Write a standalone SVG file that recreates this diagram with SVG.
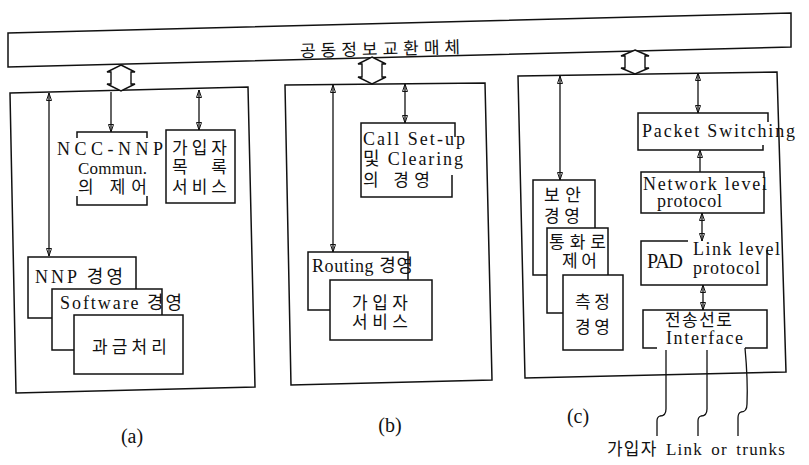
<svg xmlns="http://www.w3.org/2000/svg" width="809" height="465" viewBox="0 0 809 465">
<style>
text{font-family:"Liberation Serif","Noto Sans CJK KR",serif;fill:#111;font-size:17px}
.k{font-family:"Noto Sans CJK KR","Liberation Serif",sans-serif;font-size:17px}
.l{font-size:18px}
.p{font-size:20px}
.b{fill:none;stroke:#111;stroke-width:1.5}
.c{fill:none;stroke:#111;stroke-width:1.3}
.h{fill:#fff;stroke:#111;stroke-width:1.4}
</style>
<defs>
<marker id="ah" viewBox="0 0 8 6" refX="8" refY="3" markerWidth="8" markerHeight="6" markerUnits="userSpaceOnUse" orient="auto-start-reverse">
<path d="M0.5,0.5 L8,3 L0.5,5.5 Z" fill="none" stroke="#111" stroke-width="1"/>
</marker>
</defs>
<rect width="809" height="465" fill="#fff"/>

<g id="bus">
<polygon class="b" points="8,33 791,13 791,47 8,67"/>
<text class="k" x="300" y="55" font-size="18" textLength="160" lengthAdjust="spacing" transform="rotate(-1.4 380 48)">공동정보교환매체</text>
</g>

<g id="panel-a">
<polygon class="b" points="10,93 248,87 255,387 16,393"/>
<text class="p" x="132" y="443" text-anchor="middle">(a)</text>
</g>
<g id="ncc-nnp">
<path class="b" d="M77,138 V132 H147 V138 M77,196 V205 H147 V196"/>
<text class="l" x="57" y="155" textLength="106" lengthAdjust="spacing">NCC-NNP</text>
<text x="78" y="174" textLength="69" lengthAdjust="spacing">Commun.</text>
<text class="k" x="78" y="193" textLength="69" lengthAdjust="spacing">의 제어</text>
</g>
<g id="subscriber-directory">
<rect class="b" x="166" y="130" width="69" height="73"/>
<text class="k" x="172" y="154" textLength="55" lengthAdjust="spacing">가입자</text>
<text class="k" x="172" y="173" textLength="55" lengthAdjust="spacing">목 록</text>
<text class="k" x="172" y="193" textLength="55" lengthAdjust="spacing">서비스</text>
</g>
<g id="nnp-mgmt">
<path class="b" d="M136,289 V257 H28 V318 H52"/>
<text class="l" x="35" y="283" textLength="88" lengthAdjust="spacing">NNP 경영</text>
</g>
<g id="software-mgmt">
<path class="b" d="M74,350 H52 V289 H162 V315"/>
<text class="l" x="60" y="309" textLength="122" lengthAdjust="spacing">Software 경영</text>
</g>
<g id="billing">
<rect class="b" x="74" y="315" width="109" height="59"/>
<text class="k" x="92" y="353" textLength="75" lengthAdjust="spacing">과금처리</text>
</g>

<g id="panel-b">
<polygon class="b" points="285,85 485,83 492,380 291,385"/>
<text class="p" x="390" y="432" text-anchor="middle">(b)</text>
</g>
<g id="call-setup">
<path class="b" d="M455,137 V123 H361 V197 H452 V175"/>
<text class="l" x="363" y="145" textLength="102" lengthAdjust="spacing">Call Set-up</text>
<text class="l" x="363" y="165" textLength="100" lengthAdjust="spacing">및 Clearing</text>
<text class="k" x="363" y="186" textLength="67" lengthAdjust="spacing">의 경영</text>
</g>
<g id="routing-mgmt">
<path class="b" d="M408,280 V252 H308 V310 H330"/>
<text class="l" x="312" y="272" textLength="101" lengthAdjust="spacing">Routing 경영</text>
</g>
<g id="subscriber-service">
<rect class="b" x="330" y="280" width="102" height="60"/>
<text class="k" x="352" y="309" textLength="56" lengthAdjust="spacing">가입자</text>
<text class="k" x="352" y="328" textLength="56" lengthAdjust="spacing">서비스</text>
</g>

<g id="panel-c">
<polygon class="b" points="518,76 777,72 786,372 525,378"/>
<text class="p" x="578" y="423" text-anchor="middle">(c)</text>
</g>
<g id="security-mgmt">
<path class="b" d="M595,228 V180 H533 V275 H547"/>
<text class="k" x="544" y="201" textLength="37" lengthAdjust="spacing">보안</text>
<text class="k" x="544" y="222" textLength="36" lengthAdjust="spacing">경영</text>
</g>
<g id="channel-control">
<path class="b" d="M608,275 V228 H547 V313 H563"/>
<text class="k" x="549" y="248" textLength="57" lengthAdjust="spacing">통화로</text>
<text class="k" x="562" y="267" textLength="35" lengthAdjust="spacing">제어</text>
</g>
<g id="measurement-mgmt">
<rect class="b" x="563" y="275" width="60" height="75"/>
<text class="k" x="575" y="308" textLength="35" lengthAdjust="spacing">측정</text>
<text class="k" x="575" y="333" textLength="35" lengthAdjust="spacing">경영</text>
</g>
<g id="packet-switching">
<path class="b" d="M768,122 V113 H638 V150 H763 V145"/>
<text class="l" x="642" y="137" textLength="153" lengthAdjust="spacing">Packet Switching</text>
</g>
<g id="network-level">
<path class="b" d="M764,178 V172 H641 V213 H764 V185"/>
<text class="l" x="643" y="190" textLength="124" lengthAdjust="spacing">Network level</text>
<text class="l" x="657" y="207" textLength="65" lengthAdjust="spacing">protocol</text>
</g>
<g id="pad-link-level">
<path class="b" d="M688,241 H641 V285 H767 V250"/>
<text class="p" x="647" y="268" textLength="36" lengthAdjust="spacing">PAD</text>
<text class="l" x="693" y="255" textLength="87" lengthAdjust="spacing">Link level</text>
<text class="l" x="693" y="274" textLength="67" lengthAdjust="spacing">protocol</text>
</g>
<g id="line-interface">
<path class="b" d="M657,348 H643 V310 H767 V348 H745"/>
<text class="k" x="665" y="326" textLength="67" lengthAdjust="spacing">전송선로</text>
<text class="l" x="666" y="344" textLength="77" lengthAdjust="spacing">Interface</text>
</g>
<g id="links">
<text x="607" y="455" font-size="18" letter-spacing="1.2" word-spacing="3"><tspan class="k" font-size="15">가입자</tspan> Link or trunks</text>
</g>

<g id="connectors">
<polygon class="h" points="121,65 135,72 131,72 131,84 135,84 121,91 107,84 111,84 111,72 107,72"/>
<polygon class="h" points="372,57 386,64 382,64 382,77 386,77 372,84 358,77 362,77 362,64 358,64"/>
<polygon class="h" points="635,50 649,56 645,56 645,68 649,68 635,74 621,68 625,68 625,56 621,56"/>
<line class="c" x1="49" y1="93" x2="49" y2="256" marker-start="url(#ah)" marker-end="url(#ah)"/>
<line class="c" x1="111" y1="92" x2="111" y2="132" marker-end="url(#ah)"/>
<line class="c" x1="199" y1="90" x2="199" y2="130" marker-start="url(#ah)" marker-end="url(#ah)"/>
<line class="c" x1="333" y1="85" x2="333" y2="252" marker-start="url(#ah)" marker-end="url(#ah)"/>
<line class="c" x1="405" y1="84" x2="405" y2="123" marker-start="url(#ah)" marker-end="url(#ah)"/>
<line class="c" x1="560" y1="76" x2="560" y2="180" marker-start="url(#ah)" marker-end="url(#ah)"/>
<line class="c" x1="698" y1="73" x2="698" y2="113" marker-start="url(#ah)" marker-end="url(#ah)"/>
<line class="c" x1="700" y1="172" x2="700" y2="150" marker-end="url(#ah)"/>
<line class="c" x1="702" y1="213" x2="702" y2="241" marker-start="url(#ah)" marker-end="url(#ah)"/>
<line class="c" x1="703" y1="285" x2="703" y2="310" marker-start="url(#ah)" marker-end="url(#ah)"/>
<path class="c" d="M666,350 V409 Q666,416 660,416 Q657,417 657,421 V436"/>
<path class="c" d="M707,350 V409 Q707,416 701,416 Q698,417 698,421 V436"/>
<path class="c" d="M745,348 Q748,380 747,404 Q747,412 741,412 Q738,413 738,418 V436"/>
</g>
</svg>
